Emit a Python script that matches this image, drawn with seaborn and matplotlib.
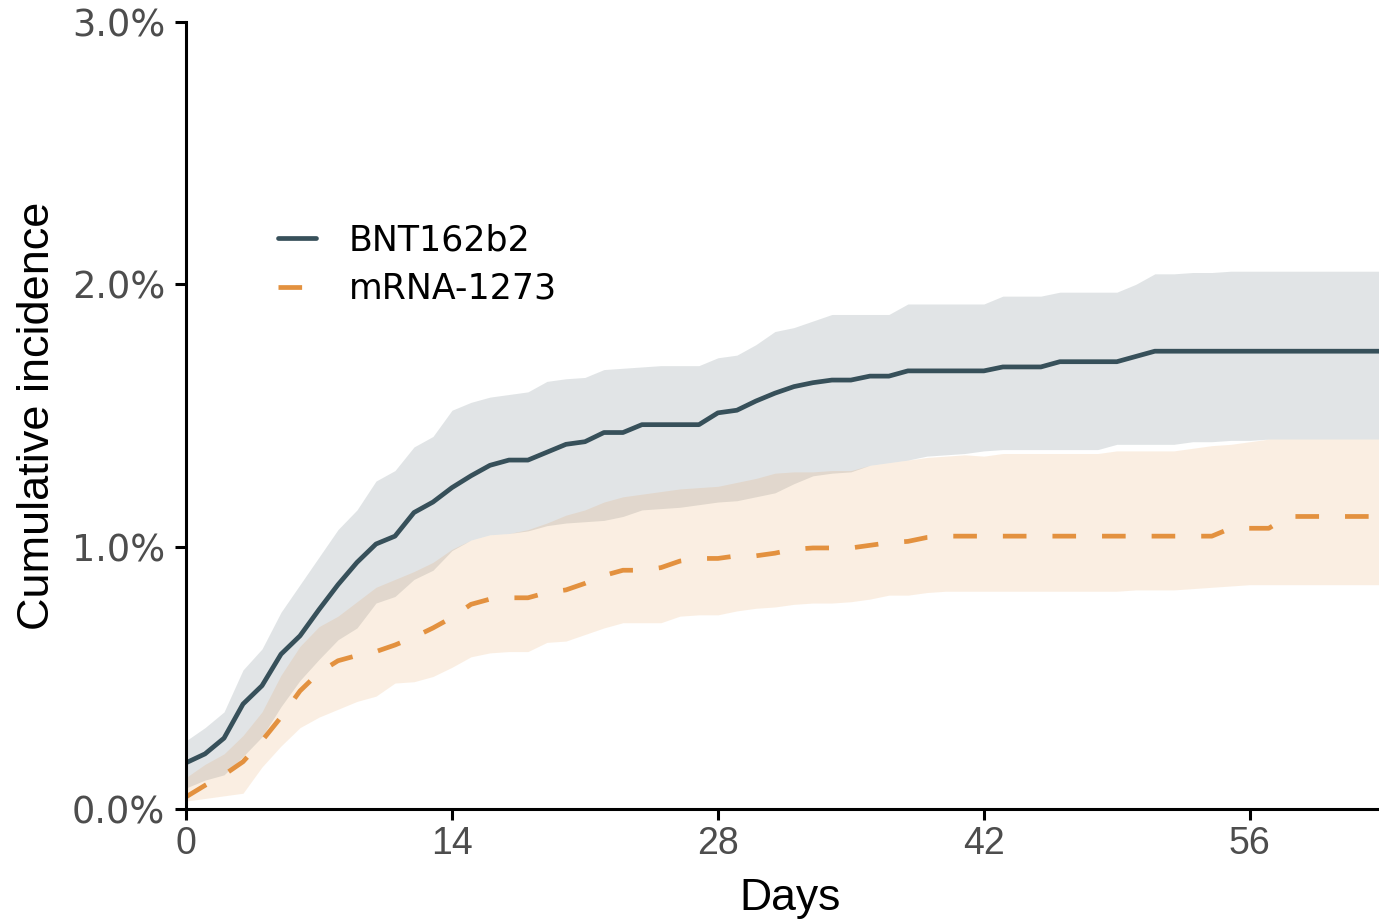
import numpy as np
import pandas as pd
import seaborn as sns
import matplotlib
matplotlib.use("Agg")
import matplotlib.pyplot as plt
from matplotlib import font_manager

# cumulative incidence (%) per day
days = list(range(0, 64))

bnt_est = [0.176, 0.21, 0.27, 0.40, 0.47, 0.59, 0.66, 0.76, 0.855, 0.94,
           1.01, 1.04, 1.13, 1.17, 1.225, 1.27, 1.31, 1.33, 1.33, 1.36,
           1.39, 1.40, 1.435, 1.435, 1.465, 1.465, 1.465, 1.465, 1.51, 1.52,
           1.555, 1.585, 1.61, 1.625, 1.635, 1.635, 1.65, 1.65, 1.67, 1.67,
           1.67, 1.67, 1.67, 1.685, 1.685, 1.685, 1.705, 1.705, 1.705, 1.705,
           1.725, 1.745, 1.745, 1.745, 1.745, 1.745, 1.745, 1.745, 1.745, 1.745,
           1.745, 1.745, 1.745, 1.745]
bnt_hi = [0.26, 0.31, 0.37, 0.53, 0.61, 0.75, 0.855, 0.96, 1.065, 1.14,
          1.25, 1.29, 1.38, 1.42, 1.52, 1.55, 1.57, 1.58, 1.59, 1.63,
          1.64, 1.645, 1.675, 1.68, 1.685, 1.69, 1.69, 1.69, 1.72, 1.73,
          1.77, 1.82, 1.835, 1.86, 1.885, 1.885, 1.885, 1.885, 1.925, 1.925,
          1.925, 1.925, 1.925, 1.955, 1.955, 1.955, 1.97, 1.97, 1.97, 1.97,
          2.00, 2.04, 2.04, 2.045, 2.045, 2.05, 2.05, 2.05, 2.05, 2.05,
          2.05, 2.05, 2.05, 2.05]
bnt_lo = [0.08, 0.11, 0.13, 0.20, 0.275, 0.39, 0.49, 0.57, 0.645, 0.69,
          0.785, 0.81, 0.875, 0.91, 0.985, 1.025, 1.045, 1.05, 1.06, 1.08,
          1.09, 1.095, 1.10, 1.115, 1.14, 1.145, 1.15, 1.16, 1.17, 1.175,
          1.19, 1.205, 1.24, 1.27, 1.28, 1.285, 1.31, 1.32, 1.33, 1.345,
          1.35, 1.355, 1.365, 1.37, 1.37, 1.37, 1.37, 1.37, 1.37, 1.39,
          1.39, 1.39, 1.39, 1.40, 1.40, 1.405, 1.405, 1.41, 1.41, 1.41,
          1.41, 1.41, 1.41, 1.41]

mrna_est = [0.046, 0.09, 0.13, 0.18, 0.26, 0.35, 0.45, 0.52, 0.565, 0.585,
            0.60, 0.625, 0.655, 0.69, 0.73, 0.78, 0.80, 0.805, 0.805, 0.825,
            0.835, 0.86, 0.89, 0.91, 0.91, 0.92, 0.945, 0.955, 0.955, 0.965,
            0.965, 0.975, 0.99, 0.995, 0.995, 0.995, 1.005, 1.015, 1.02, 1.035,
            1.04, 1.04, 1.04, 1.04, 1.04, 1.04, 1.04, 1.04, 1.04, 1.04,
            1.04, 1.04, 1.04, 1.04, 1.04, 1.07, 1.07, 1.07, 1.115, 1.115,
            1.115, 1.115, 1.115, 1.115]
mrna_hi = [0.12, 0.17, 0.21, 0.28, 0.37, 0.51, 0.62, 0.695, 0.735, 0.79,
           0.845, 0.875, 0.905, 0.94, 0.99, 1.025, 1.045, 1.05, 1.065, 1.09,
           1.12, 1.14, 1.17, 1.19, 1.20, 1.21, 1.22, 1.225, 1.23, 1.245,
           1.26, 1.28, 1.285, 1.285, 1.29, 1.29, 1.31, 1.32, 1.33, 1.34,
           1.345, 1.35, 1.345, 1.355, 1.355, 1.355, 1.355, 1.355, 1.355, 1.365,
           1.365, 1.365, 1.365, 1.375, 1.385, 1.39, 1.40, 1.41, 1.41, 1.41,
           1.41, 1.41, 1.41, 1.41]
mrna_lo = [0.03, 0.04, 0.05, 0.06, 0.16, 0.24, 0.31, 0.35, 0.38, 0.41,
           0.43, 0.48, 0.485, 0.505, 0.54, 0.58, 0.595, 0.60, 0.60, 0.635,
           0.64, 0.665, 0.69, 0.71, 0.71, 0.71, 0.735, 0.74, 0.74, 0.755,
           0.765, 0.77, 0.78, 0.785, 0.785, 0.79, 0.80, 0.815, 0.815, 0.825,
           0.83, 0.83, 0.83, 0.83, 0.83, 0.83, 0.83, 0.83, 0.83, 0.83,
           0.835, 0.835, 0.835, 0.84, 0.845, 0.85, 0.855, 0.855, 0.855, 0.855,
           0.855, 0.855, 0.855, 0.855]

vaccines = ["BNT162b2", "mRNA-1273"]
colors = {"BNT162b2": "#37505a", "mRNA-1273": "#e3913f"}
x_ticks = [0, 14, 28, 42, 56]
y_ticks = [0.0, 1.0, 2.0, 3.0]


def have_font(name):
    return any(f.name == name for f in font_manager.fontManager.ttflist)


narrow = "Liberation Sans Narrow" if have_font("Liberation Sans Narrow") else "Liberation Sans"

df = pd.DataFrame({
    "day": days * 2,
    "est": bnt_est + mrna_est,
    "lo": bnt_lo + mrna_lo,
    "hi": bnt_hi + mrna_hi,
    "vaccine": [vaccines[0]] * len(days) + [vaccines[1]] * len(days),
})

sns.set_theme(style="ticks")
plt.rcParams["font.family"] = ["DejaVu Sans"]

fig = plt.figure(figsize=(13.79, 9.24), dpi=100)
ax = fig.add_axes([0.1349, 0.1245, 0.8651, 0.9762 - 0.1245])

# confidence bands first so the lines sit on top
for v in vaccines:
    d = df[df.vaccine == v]
    ax.fill_between(d.day, d.lo, d.hi, color=colors[v], alpha=0.15, linewidth=0)

sns.lineplot(data=df, x="day", y="est", hue="vaccine", style="vaccine",
             palette=colors, dashes={"BNT162b2": "", "mRNA-1273": (5, 5.5)},
             linewidth=3.4, ax=ax)

ax.set_xlim(0, 62.8)
ax.set_ylim(0, 3.0)
ax.set_xticks(x_ticks)
ax.set_yticks(y_ticks)
ax.set_yticklabels([f"{t:.1f}%" for t in y_ticks], fontsize=26.5, color="#4d4d4d")
ax.set_xticklabels([str(t) for t in x_ticks], fontsize=27, color="#4d4d4d", family=narrow)

for s in ["top", "right"]:
    ax.spines[s].set_visible(False)
for s in ["left", "bottom"]:
    ax.spines[s].set_color("black")
    ax.spines[s].set_linewidth(2.2)
ax.tick_params(axis="both", length=8, width=2.2, color="black")
ax.tick_params(axis="x", pad=4)
ax.tick_params(axis="y", pad=7)

ax.set_xlabel("Days", fontsize=32, family=narrow, color="black")
ax.xaxis.set_label_coords(0.506, -0.088)
ax.set_ylabel("Cumulative incidence", fontsize=32.5, family=narrow, color="black")
ax.yaxis.set_label_coords(-0.107, 0.5)

leg = ax.legend(title=None, frameon=False, loc="center left",
                bbox_to_anchor=(0.077, 0.692), borderpad=0, borderaxespad=0,
                fontsize=25, handlelength=1.1, handletextpad=0.95, labelspacing=0.42)
for t in leg.get_texts():
    t.set_color("black")
for h in leg.get_lines():
    h.set_linewidth(3.4)

fig.savefig("out.png", dpi=100)
